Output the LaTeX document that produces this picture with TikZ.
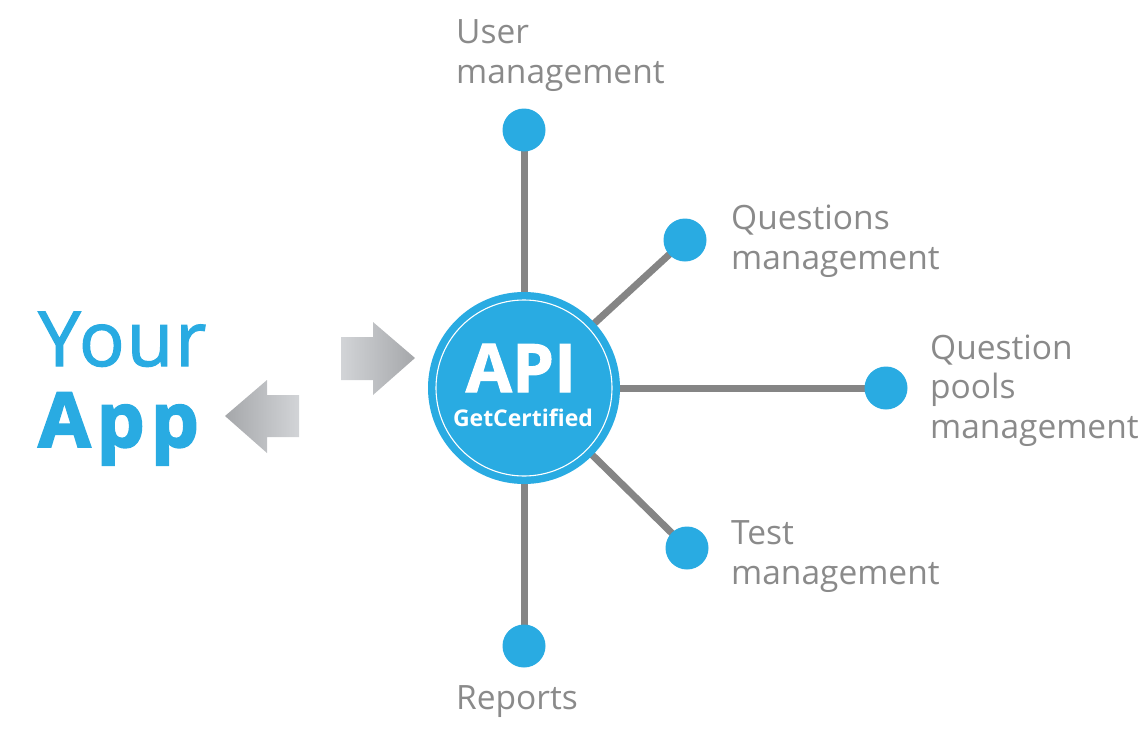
\documentclass[tikz,border=0pt]{standalone}
\usepackage{fontspec}
\setmainfont{Open Sans}
\newfontfamily\yourfont[FakeBold=1.6,LetterSpace=2.5]{Open Sans}
\newfontfamily\appfont[FakeBold=2.5,LetterSpace=8,UprightFont=*,BoldFont=*]{Open Sans Bold}
\newfontfamily\apifont[FakeBold=1.5,UprightFont=*,BoldFont=*]{Open Sans Bold}
\usetikzlibrary{backgrounds}
\definecolor{apiblue}{HTML}{29ABE2}
\definecolor{linegray}{HTML}{858585}
\definecolor{labelgray}{HTML}{8A8A8A}
\definecolor{arrowlight}{HTML}{D2D4D7}
\definecolor{arrowdark}{HTML}{A5A7AA}
\begin{document}
\begin{tikzpicture}[x=1pt,y=-1pt,
  dot/.style={circle,fill=apiblue,minimum size=43pt,inner sep=0pt},
  spoke/.style={draw=linegray,line width=7pt},
  label/.style={text=labelgray,font={\fontsize{33.5}{39.5}\selectfont},align=left,anchor=base west,inner sep=0pt}]
\useasboundingbox (0,0) rectangle (1148,736);
% hub
\node[circle,fill=apiblue,minimum size=192pt,inner sep=0pt] (hub) at (524,388) {};
\draw[white,line width=1.1pt] (hub.center) circle (88);
\node[text=white,font={\fontsize{67}{67}\apifont},anchor=base,inner sep=0pt] (api) at (521,392) {API};
\node[text=white,font={\fontsize{23}{23}\selectfont\bfseries},anchor=base,inner sep=0pt] (gc) at (523,426) {GetCertified};
% dots
\node[dot] (user) at (524,130) {};
\node[dot] (ques) at (685,240) {};
\node[dot] (pool) at (886,388) {};
\node[dot] (test) at (687,548) {};
\node[dot] (rep) at (524,646) {};
\begin{scope}[on background layer]
\draw[spoke] (hub.center) -- (user.center);
\draw[spoke] (hub.center) -- (ques.center);
\draw[spoke] (hub.center) -- (pool.center);
\draw[spoke] (hub.center) -- (test.center);
\draw[spoke] (hub.center) -- (rep.center);
\end{scope}
% labels
\node[label] (luser) at (456,83) {User\\management};
\node[label] (lques) at (731,269) {Questions\\management};
\node[label] (lpool) at (930,438) {Question\\pools\\management};
\node[label] (ltest) at (731,584) {Test\\management};
\node[label] (lrep) at (456,709) {Reports};
% your app
\node[text=apiblue,font={\fontsize{76}{76}\yourfont},anchor=base west,inner sep=0pt] (your) at (38,366) {Your};
\node[text=apiblue,font={\fontsize{76}{76}\appfont},anchor=base west,inner sep=0pt] (app) at (38,447) {App};
% arrows
\shade[left color=arrowlight,right color=arrowdark] (341,337) -- (373,337) -- (373,322) -- (415,358) -- (373,395) -- (373,380) -- (341,380) -- cycle;
\shade[left color=arrowdark,right color=arrowlight] (299,395) -- (267,395) -- (267,380) -- (225,416) -- (267,453) -- (267,437) -- (299,437) -- cycle;
\end{tikzpicture}
\end{document}
